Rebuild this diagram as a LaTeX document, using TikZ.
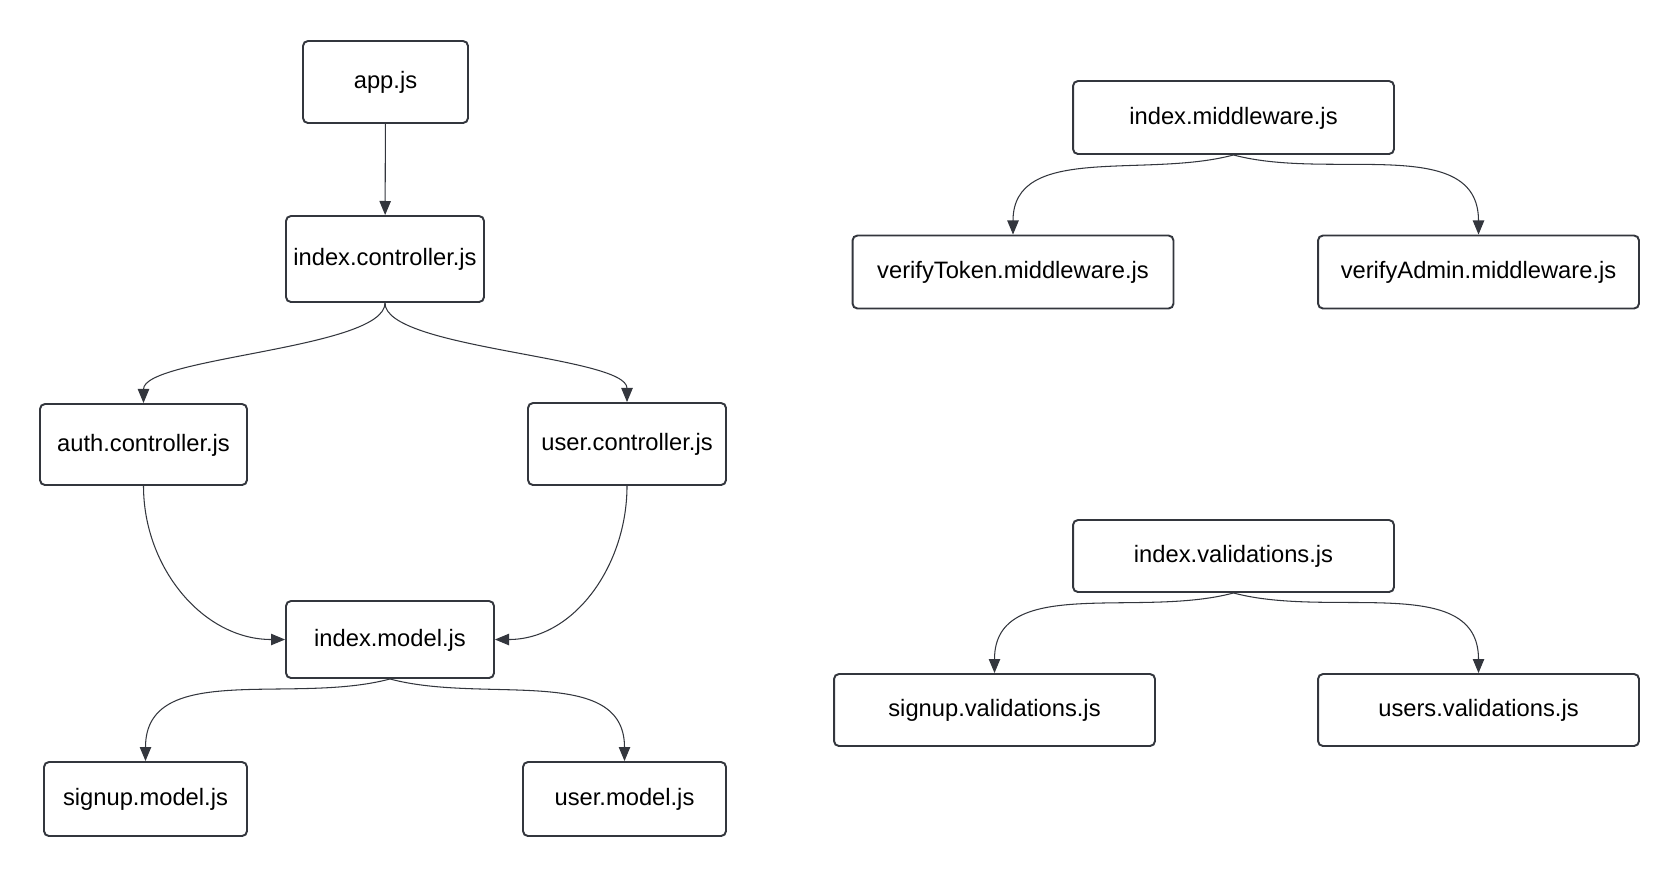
\documentclass[tikz,border=0pt]{standalone}
\usepackage{fontspec}
\setmainfont{Liberation Sans}
\usetikzlibrary{arrows.meta,positioning}
\definecolor{inkgray}{HTML}{33363D}

\begin{document}
\begin{tikzpicture}[x=0.02cm, y=-0.02cm,
    file/.style={draw=inkgray, line width=1.1pt, rounded corners=2.8pt,
        inner sep=0pt, text height=0.95em, text depth=0.2em,
        font=\fontsize{13.5}{16}\selectfont},
    link/.style={draw=inkgray, line width=0.6pt,
        -{Triangle[length=8pt, width=6.5pt]}}]
    \useasboundingbox (0,0) rectangle (1679,877);

    % Controllers and models
    \node[file, minimum width=3.3cm, minimum height=1.64cm] (app) at (385.5,82) {app.js};
    \node[file, minimum width=3.96cm, minimum height=1.72cm] (idxctrl) at (385,259) {index.controller.js};
    \node[file, minimum width=4.14cm, minimum height=1.62cm] (authctrl) at (143.5,444.5) {auth.controller.js};
    \node[file, minimum width=3.96cm, minimum height=1.64cm] (userctrl) at (627,444) {user.controller.js};
    \node[file, minimum width=4.16cm, minimum height=1.54cm] (idxmodel) at (390,639.5) {index.model.js};
    \node[file, minimum width=4.06cm, minimum height=1.48cm] (signupmodel) at (145.5,799) {signup.model.js};
    \node[file, minimum width=4.06cm, minimum height=1.48cm] (usermodel) at (624.5,799) {user.model.js};

    \draw[link] (app) -- (idxctrl);
    \draw[link] (idxctrl.south) to[out=-90, in=90, looseness=0.45] (authctrl.north);
    \draw[link] (idxctrl.south) to[out=-90, in=90, looseness=0.45] (userctrl.north);
    \draw[link] (authctrl.south) to[out=-90, in=180] (idxmodel.west);
    \draw[link] (userctrl.south) to[out=-90, in=0] (idxmodel.east);
    \draw[link] (idxmodel.south) to[out=-165, in=90] (signupmodel.north);
    \draw[link] (idxmodel.south) to[out=-15, in=90] (usermodel.north);

    % Middleware
    \node[file, minimum width=6.42cm, minimum height=1.46cm] (idxmw) at (1233.5,117.5) {index.middleware.js};
    \node[file, minimum width=6.42cm, minimum height=1.46cm] (tokenmw) at (1013,272) {verifyToken.middleware.js};
    \node[file, minimum width=6.42cm, minimum height=1.46cm] (adminmw) at (1478.5,272) {verifyAdmin.middleware.js};

    \draw[link] (idxmw.south) to[out=-165, in=90] (tokenmw.north);
    \draw[link] (idxmw.south) to[out=-15, in=90] (adminmw.north);

    % Validations
    \node[file, minimum width=6.42cm, minimum height=1.44cm] (idxval) at (1233.5,556) {index.validations.js};
    \node[file, minimum width=6.42cm, minimum height=1.44cm] (signupval) at (994.5,710) {signup.validations.js};
    \node[file, minimum width=6.42cm, minimum height=1.44cm] (usersval) at (1478.5,710) {users.validations.js};

    \draw[link] (idxval.south) to[out=-165, in=90] (signupval.north);
    \draw[link] (idxval.south) to[out=-15, in=90] (usersval.north);
\end{tikzpicture}
\end{document}
